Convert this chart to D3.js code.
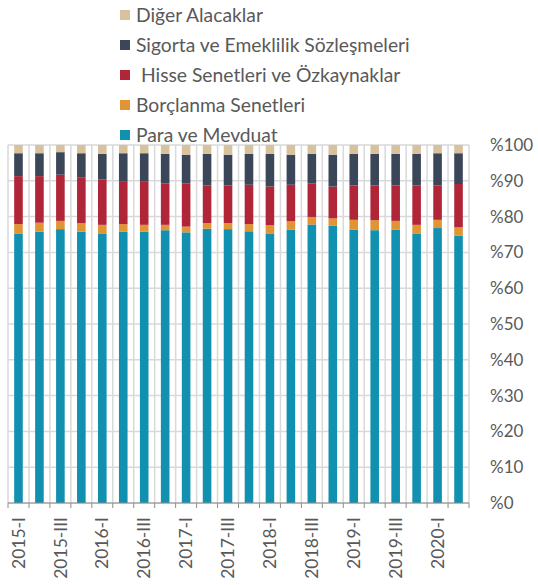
<!DOCTYPE html>
<html>
<head>
<meta charset="utf-8">
<script src="https://cdn.jsdelivr.net/npm/d3@7"></script>
<style>
  body { margin: 0; background: #fff; }
  svg { font-family: Lato, "Open Sans", sans-serif; }
</style>
</head>
<body>
<svg width="538" height="585"></svg>
<script>
// quarters on the x axis
const quarters = [
  '2015-I','2015-II','2015-III','2015-IV',
  '2016-I','2016-II','2016-III','2016-IV',
  '2017-I','2017-II','2017-III','2017-IV',
  '2018-I','2018-II','2018-III','2018-IV',
  '2019-I','2019-II','2019-III','2019-IV',
  '2020-I','2020-II'
];

// shares in %
const para     = [75.3,75.8,76.5,75.8,75.3,75.8,75.8,76.2,75.6,76.6,76.5,75.9,75.3,76.3,77.8,77.5,76.3,76.2,76.3,75.3,76.8,74.7];
const borc     = [2.6,2.5,2.3,2.4,2.4,2.1,1.9,1.5,1.6,1.6,1.7,2.0,2.3,2.4,2.1,2.0,2.8,2.8,2.5,2.4,2.3,2.3];
const hisse    = [13.4,13.0,12.9,12.8,12.7,12.0,12.2,11.6,12.1,10.5,10.5,11.0,10.8,10.2,9.4,8.9,9.6,9.7,9.9,11.0,9.6,12.1];
const sigorta  = [6.4,6.4,6.3,6.7,7.1,7.8,7.8,8.2,8.0,8.8,8.6,8.6,9.1,8.4,8.2,8.9,8.8,8.8,8.8,8.8,9.0,8.6];
const diger    = [2.3,2.3,2.0,2.3,2.5,2.3,2.3,2.5,2.7,2.5,2.7,2.5,2.5,2.7,2.5,2.7,2.5,2.5,2.5,2.5,2.3,2.3];

const seriesKeys   = ['para','borc','hisse','sigorta','diger'];
const seriesNames  = ['Para ve Mevduat','Borçlanma Senetleri',' Hisse Senetleri ve Özkaynaklar','Sigorta ve Emeklilik Sözleşmeleri','Diğer Alacaklar'];
const seriesColors = ['#1190b0','#e09433','#b12538','#3b4659','#d8c29d'];
const yTicks = [0,10,20,30,40,50,60,70,80,90,100];

const rows = quarters.map((q, i) => ({
  q: q, para: para[i], borc: borc[i], hisse: hisse[i], sigorta: sigorta[i], diger: diger[i]
}));

const svg = d3.select('svg');
const pLeft = 8, pRight = 469, pTop = 145, pBottom = 503;

const x = d3.scaleBand()
  .domain(quarters)
  .range([pLeft, pRight])
  .paddingInner(0.59)
  .paddingOuter(0.295);

const y = d3.scaleLinear().domain([0, 100]).range([pBottom, pTop]);

const color = d3.scaleOrdinal().domain(seriesKeys).range(seriesColors);

// horizontal grid
svg.append('g')
  .selectAll('line')
  .data(yTicks)
  .join('line')
    .attr('x1', pLeft).attr('x2', pRight)
    .attr('y1', d => y(d)).attr('y2', d => y(d))
    .attr('stroke', '#d9d9d9')
    .attr('stroke-width', 1.5);

// vertical grid at category boundaries
const step = x.step();
const bounds = d3.range(quarters.length + 1).map(i => pLeft + i * step);
svg.append('g')
  .selectAll('line')
  .data(bounds)
  .join('line')
    .attr('x1', d => d).attr('x2', d => d)
    .attr('y1', pTop).attr('y2', pBottom)
    .attr('stroke', '#d9d9d9')
    .attr('stroke-width', 1.5);

// stacked bars
const stacked = d3.stack().keys(seriesKeys)(rows);
svg.append('g')
  .selectAll('g')
  .data(stacked)
  .join('g')
    .attr('fill', d => color(d.key))
  .selectAll('rect')
  .data(d => d)
  .join('rect')
    .attr('x', d => x(d.data.q))
    .attr('width', x.bandwidth())
    .attr('y', d => y(d[1]))
    .attr('height', d => y(d[0]) - y(d[1]));

// bottom axis line + boundary ticks
svg.append('line')
  .attr('x1', pLeft).attr('x2', pRight)
  .attr('y1', pBottom).attr('y2', pBottom)
  .attr('stroke', '#8c8c8c').attr('stroke-width', 1);
svg.append('g')
  .selectAll('line')
  .data(bounds)
  .join('line')
    .attr('x1', d => d).attr('x2', d => d)
    .attr('y1', pBottom).attr('y2', pBottom + 5)
    .attr('stroke', '#8c8c8c');

// x labels (every other quarter)
const xAxis = d3.axisBottom(x)
  .tickSize(0)
  .tickFormat((d, i) => i % 2 === 0 ? d : '');
const gx = svg.append('g')
  .attr('transform', `translate(0,${pBottom})`)
  .call(xAxis);
gx.select('.domain').remove();
gx.selectAll('text')
  .attr('font-family', 'Lato, sans-serif')
  .attr('font-size', 17.5)
  .attr('fill', '#595959')
  .attr('transform', 'rotate(-90)')
  .attr('text-anchor', 'end')
  .attr('x', -14)
  .attr('y', 0)
  .attr('dy', '0.35em');

// right y axis labels
const yAxis = d3.axisRight(y)
  .tickValues(yTicks)
  .tickSize(0)
  .tickFormat(d => '%' + d);
const gy = svg.append('g')
  .attr('transform', `translate(${pRight + 21},0)`)
  .call(yAxis);
gy.select('.domain').remove();
gy.selectAll('text')
  .attr('font-family', 'Lato, sans-serif')
  .attr('font-size', 17)
  .attr('fill', '#595959')
  .attr('x', 0);

// legend (reverse order, top to bottom)
const legendOrder = d3.range(seriesKeys.length).reverse();
const legend = svg.append('g')
  .selectAll('g')
  .data(legendOrder)
  .join('g')
    .attr('transform', (d, i) => `translate(120,${15 + i * 30})`);
legend.append('rect')
  .attr('x', 0).attr('y', -5)
  .attr('width', 10).attr('height', 10)
  .attr('fill', d => seriesColors[d]);
legend.append('text')
  .attr('x', 16).attr('y', 0)
  .attr('dy', '0.35em')
  .attr('font-size', 19.3)
  .attr('fill', '#595959')
  .style('white-space', 'pre')
  .text(d => seriesNames[d]);
</script>
</body>
</html>
